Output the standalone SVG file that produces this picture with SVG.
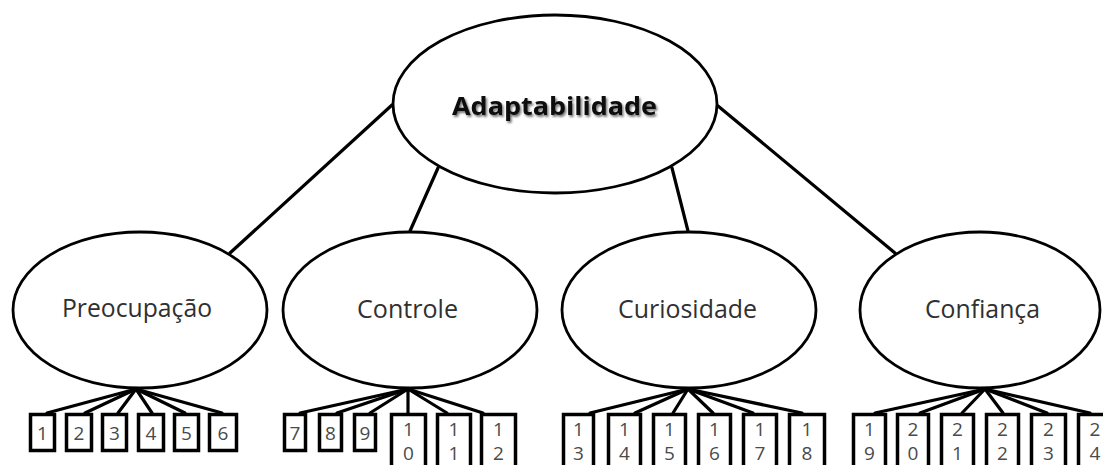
<svg xmlns="http://www.w3.org/2000/svg" width="1103" height="465" viewBox="0 0 1103 465">
<defs>
<style>
.ell{fill:#fff;stroke:#000;stroke-width:2.8}
.con{stroke:#000;stroke-width:3.2;fill:none;stroke-linecap:round}
.box{fill:#fff;stroke:#000;stroke-width:3.5}
.lbl{font-family:"Open Sans","DejaVu Sans",sans-serif;font-size:25px;fill:#303030}
.top{font-family:"Open Sans","DejaVu Sans",sans-serif;font-size:25px;font-weight:bold;fill:#111}
.dg{font-family:"Open Sans","DejaVu Sans",sans-serif;font-size:19px;fill:#4a4a4a;text-anchor:middle}
</style>
<filter id="sh" x="-10%" y="-30%" width="120%" height="160%">
<feDropShadow dx="1.5" dy="2" stdDeviation="1.2" flood-color="#000" flood-opacity="0.55"/>
</filter>
</defs>
<g id="connectors">
<line class="con" x1="392" y1="105" x2="230" y2="253"/>
<line class="con" x1="438" y1="168" x2="410" y2="231"/>
<line class="con" x1="672" y1="168" x2="688" y2="231"/>
<line class="con" x1="718" y1="106" x2="895" y2="253"/>
<g id="c1">
<line class="con" x1="136" y1="389" x2="47" y2="413"/>
<line class="con" x1="136" y1="389" x2="85" y2="413"/>
<line class="con" x1="136" y1="389" x2="118" y2="413"/>
<line class="con" x1="136" y1="389" x2="152" y2="413"/>
<line class="con" x1="136" y1="389" x2="185" y2="413"/>
<line class="con" x1="136" y1="389" x2="222" y2="413"/>
</g>
<g id="c2">
<line class="con" x1="408" y1="389" x2="300" y2="413"/>
<line class="con" x1="408" y1="389" x2="337" y2="413"/>
<line class="con" x1="408" y1="389" x2="370" y2="413"/>
<line class="con" x1="408" y1="389" x2="408" y2="413"/>
<line class="con" x1="408" y1="389" x2="447" y2="413"/>
<line class="con" x1="408" y1="389" x2="483" y2="413"/>
</g>
<g id="c3">
<line class="con" x1="688" y1="389" x2="590" y2="413"/>
<line class="con" x1="688" y1="389" x2="635" y2="413"/>
<line class="con" x1="688" y1="389" x2="673" y2="413"/>
<line class="con" x1="688" y1="389" x2="713" y2="413"/>
<line class="con" x1="688" y1="389" x2="753" y2="413"/>
<line class="con" x1="688" y1="389" x2="802" y2="413"/>
</g>
<g id="c4">
<line class="con" x1="985" y1="389" x2="875" y2="413"/>
<line class="con" x1="985" y1="389" x2="920" y2="413"/>
<line class="con" x1="985" y1="389" x2="962" y2="413"/>
<line class="con" x1="985" y1="389" x2="1003" y2="413"/>
<line class="con" x1="985" y1="389" x2="1047" y2="413"/>
<line class="con" x1="985" y1="389" x2="1090" y2="413"/>
</g>
</g>
<g id="adaptabilidade">
<ellipse class="ell" cx="555" cy="104" rx="162" ry="89"/>
<text class="top" x="452" y="115" textLength="205" lengthAdjust="spacingAndGlyphs" filter="url(#sh)">Adaptabilidade</text>
</g>
<g id="preocupacao">
<ellipse class="ell" cx="140" cy="310" rx="127" ry="78"/>
<text class="lbl" x="62" y="317" textLength="150" lengthAdjust="spacingAndGlyphs">Preocupação</text>
</g>
<g id="controle">
<ellipse class="ell" cx="410" cy="310" rx="127" ry="78"/>
<text class="lbl" x="357" y="318" textLength="101" lengthAdjust="spacingAndGlyphs">Controle</text>
</g>
<g id="curiosidade">
<ellipse class="ell" cx="689" cy="310" rx="127" ry="78"/>
<text class="lbl" x="618" y="318" textLength="139" lengthAdjust="spacingAndGlyphs">Curiosidade</text>
</g>
<g id="confianca">
<ellipse class="ell" cx="980" cy="310" rx="120" ry="78"/>
<text class="lbl" x="925" y="318" textLength="115" lengthAdjust="spacingAndGlyphs">Confiança</text>
</g>
<g id="item1"><rect class="box" x="30.5" y="414.5" width="24" height="36"/><text class="dg" x="42.5" y="440">1</text></g>
<g id="item2"><rect class="box" x="66.5" y="414.5" width="25" height="36"/><text class="dg" x="79" y="440">2</text></g>
<g id="item3"><rect class="box" x="102.5" y="414.5" width="24" height="36"/><text class="dg" x="114.5" y="440">3</text></g>
<g id="item4"><rect class="box" x="138.5" y="414.5" width="25" height="36"/><text class="dg" x="151" y="440">4</text></g>
<g id="item5"><rect class="box" x="174.5" y="414.5" width="24" height="36"/><text class="dg" x="186.5" y="440">5</text></g>
<g id="item6"><rect class="box" x="209.5" y="414.5" width="27" height="36"/><text class="dg" x="223" y="440">6</text></g>
<g id="item7"><rect class="box" x="284.5" y="414.5" width="21" height="36"/><text class="dg" x="295" y="440">7</text></g>
<g id="item8"><rect class="box" x="319.5" y="414.5" width="22" height="36"/><text class="dg" x="330.5" y="440">8</text></g>
<g id="item9"><rect class="box" x="354.5" y="414.5" width="21" height="36"/><text class="dg" x="365" y="440">9</text></g>
<g id="item10"><rect class="box" x="391.5" y="414.5" width="34" height="70"/><text class="dg"><tspan x="408.5" y="436">1</tspan><tspan x="408.5" y="460">0</tspan></text></g>
<g id="item11"><rect class="box" x="437.5" y="414.5" width="33" height="70"/><text class="dg"><tspan x="454" y="436">1</tspan><tspan x="454" y="460">1</tspan></text></g>
<g id="item12"><rect class="box" x="481.5" y="414.5" width="34" height="70"/><text class="dg"><tspan x="498.5" y="436">1</tspan><tspan x="498.5" y="460">2</tspan></text></g>
<g id="item13"><rect class="box" x="563.5" y="414.5" width="30" height="70"/><text class="dg"><tspan x="578.5" y="436">1</tspan><tspan x="578.5" y="460">3</tspan></text></g>
<g id="item14"><rect class="box" x="608.5" y="414.5" width="32" height="70"/><text class="dg"><tspan x="624.5" y="436">1</tspan><tspan x="624.5" y="460">4</tspan></text></g>
<g id="item15"><rect class="box" x="653.5" y="414.5" width="32" height="70"/><text class="dg"><tspan x="669.5" y="436">1</tspan><tspan x="669.5" y="460">5</tspan></text></g>
<g id="item16"><rect class="box" x="698.5" y="414.5" width="32" height="70"/><text class="dg"><tspan x="714.5" y="436">1</tspan><tspan x="714.5" y="460">6</tspan></text></g>
<g id="item17"><rect class="box" x="743.5" y="414.5" width="33" height="70"/><text class="dg"><tspan x="760" y="436">1</tspan><tspan x="760" y="460">7</tspan></text></g>
<g id="item18"><rect class="box" x="789.5" y="414.5" width="35" height="70"/><text class="dg"><tspan x="807" y="436">1</tspan><tspan x="807" y="460">8</tspan></text></g>
<g id="item19"><rect class="box" x="853.5" y="414.5" width="32" height="70"/><text class="dg"><tspan x="869.5" y="436">1</tspan><tspan x="869.5" y="460">9</tspan></text></g>
<g id="item20"><rect class="box" x="897.5" y="414.5" width="31" height="70"/><text class="dg"><tspan x="913" y="436">2</tspan><tspan x="913" y="460">0</tspan></text></g>
<g id="item21"><rect class="box" x="941.5" y="414.5" width="32" height="70"/><text class="dg"><tspan x="957.5" y="436">2</tspan><tspan x="957.5" y="460">1</tspan></text></g>
<g id="item22"><rect class="box" x="986.5" y="414.5" width="32" height="70"/><text class="dg"><tspan x="1002.5" y="436">2</tspan><tspan x="1002.5" y="460">2</tspan></text></g>
<g id="item23"><rect class="box" x="1031.5" y="414.5" width="34" height="70"/><text class="dg"><tspan x="1048.5" y="436">2</tspan><tspan x="1048.5" y="460">3</tspan></text></g>
<g id="item24"><rect class="box" x="1078.5" y="414.5" width="34" height="70"/><text class="dg"><tspan x="1095" y="436">2</tspan><tspan x="1095" y="460">4</tspan></text></g>
</svg>
